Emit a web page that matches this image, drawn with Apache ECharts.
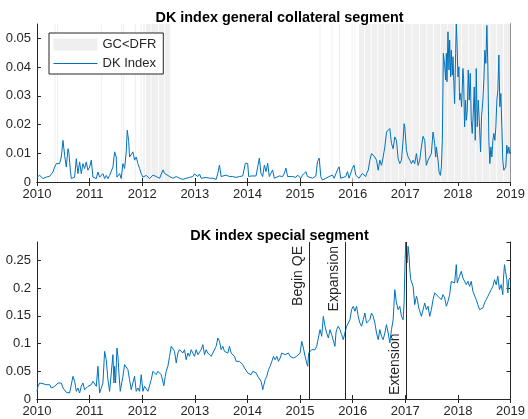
<!DOCTYPE html>
<html>
<head>
<meta charset="utf-8">
<script src="https://cdn.jsdelivr.net/npm/echarts@6/dist/echarts.min.js"></script>
<style>
  html, body { margin: 0; padding: 0; background: #fff; }
  #chart { width: 528px; height: 419px; }
</style>
</head>
<body>
<div id="chart"></div>
<script>
// Axis ticks (years) shared by both panels
const yearTicks = [2010, 2011, 2012, 2013, 2014, 2015, 2016, 2017, 2018, 2019];

// Periods (decimal years) when the GC rate was below the deposit facility rate
const gcBelowDfr = [
  [2010.335, 2010.345], [2010.38, 2010.39], [2011.22, 2011.228], [2011.60, 2011.612],
  [2011.64, 2011.648], [2011.86, 2011.87], [2011.97, 2011.99], [2012.02, 2012.05],
  [2012.07, 2012.16], [2012.175, 2012.30], [2012.315, 2012.42], [2012.435, 2012.53],
  [2015.37, 2015.378], [2015.60, 2015.608], [2015.74, 2015.748], [2015.98, 2015.995],
  [2016.03, 2016.04], [2016.12, 2016.22], [2016.235, 2016.34], [2016.36, 2016.47],
  [2016.485, 2016.60], [2016.615, 2016.72], [2016.735, 2016.86], [2016.875, 2016.98],
  [2016.995, 2017.12], [2017.135, 2017.26], [2017.275, 2017.40], [2017.415, 2017.53],
  [2017.545, 2017.66], [2017.675, 2017.80], [2017.815, 2017.93], [2017.945, 2018.06],
  [2018.075, 2018.20], [2018.215, 2018.33], [2018.345, 2018.46], [2018.475, 2018.60],
  [2018.615, 2018.73], [2018.745, 2018.86], [2018.875, 2019.0]
];

// DK index, general collateral segment: [decimal year, value]
const gcIndex = [
  [2010.000,0.0017],[2010.051,0.0023],[2010.114,0.0012],[2010.177,0.0017],[2010.241,0.0020],
  [2010.304,0.0035],[2010.335,0.0052],[2010.367,0.0064],[2010.399,0.0070],[2010.430,0.0064],
  [2010.462,0.0087],[2010.494,0.0145],[2010.525,0.0093],[2010.557,0.0052],[2010.589,0.0116],
  [2010.608,0.0099],[2010.633,0.0041],[2010.652,0.0012],[2010.684,0.0012],[2010.715,0.0017],
  [2010.747,0.0081],[2010.778,0.0029],[2010.810,0.0070],[2010.842,0.0029],[2010.873,0.0064],
  [2010.905,0.0047],[2010.937,0.0070],[2010.968,0.0041],[2011.000,0.0052],[2011.032,0.0076],
  [2011.063,0.0017],[2011.095,0.0017],[2011.127,0.0012],[2011.158,0.0035],[2011.190,0.0017],
  [2011.222,0.0017],[2011.253,0.0029],[2011.285,0.0012],[2011.316,0.0023],[2011.348,0.0012],
  [2011.380,0.0023],[2011.443,0.0052],[2011.475,0.0105],[2011.506,0.0087],[2011.519,0.0017],
  [2011.538,0.0017],[2011.570,0.0029],[2011.601,0.0012],[2011.633,0.0064],[2011.665,0.0047],
  [2011.696,0.0105],[2011.715,0.0180],[2011.741,0.0145],[2011.759,0.0087],[2011.791,0.0087],
  [2011.823,0.0105],[2011.854,0.0076],[2011.886,0.0087],[2011.918,0.0064],[2011.949,0.0047],
  [2011.981,0.0029],[2012.013,0.0017],[2012.044,0.0017],[2012.076,0.0023],[2012.139,0.0012],
  [2012.204,0.0024],[2012.267,0.0019],[2012.331,0.0013],[2012.394,0.0042],[2012.425,0.0030],
  [2012.457,0.0024],[2012.520,0.0019],[2012.583,0.0013],[2012.646,0.0019],[2012.710,0.0013],
  [2012.773,0.0009],[2012.836,0.0013],[2012.899,0.0016],[2012.962,0.0019],[2012.994,0.0028],
  [2013.025,0.0024],[2013.057,0.0019],[2013.089,0.0028],[2013.120,0.0013],[2013.152,0.0013],
  [2013.215,0.0016],[2013.278,0.0013],[2013.341,0.0013],[2013.405,0.0009],[2013.436,0.0030],
  [2013.468,0.0059],[2013.499,0.0019],[2013.531,0.0019],[2013.594,0.0024],[2013.657,0.0019],
  [2013.720,0.0019],[2013.783,0.0016],[2013.847,0.0019],[2013.910,0.0021],[2013.960,0.0065],
  [2014.004,0.0065],[2014.023,0.0019],[2014.068,0.0021],[2014.099,0.0024],[2014.163,0.0021],
  [2014.194,0.0024],[2014.226,0.0083],[2014.257,0.0030],[2014.289,0.0019],[2014.321,0.0059],
  [2014.352,0.0036],[2014.384,0.0065],[2014.415,0.0019],[2014.478,0.0042],[2014.510,0.0013],
  [2014.542,0.0013],[2014.605,0.0021],[2014.668,0.0019],[2014.700,0.0030],[2014.731,0.0048],
  [2014.763,0.0019],[2014.794,0.0013],[2014.858,0.0019],[2014.921,0.0016],[2014.952,0.0024],
  [2014.984,0.0030],[2015.015,0.0013],[2015.047,0.0024],[2015.110,0.0036],[2015.142,0.0019],
  [2015.173,0.0013],[2015.237,0.0013],[2015.300,0.0021],[2015.331,0.0071],[2015.363,0.0083],
  [2015.394,0.0019],[2015.426,0.0007],[2015.489,0.0013],[2015.552,0.0019],[2015.584,0.0021],
  [2015.615,0.0024],[2015.647,0.0013],[2015.679,0.0019],[2015.710,0.0042],[2015.742,0.0053],
  [2015.773,0.0013],[2015.805,0.0013],[2015.868,0.0019],[2015.900,0.0036],[2015.931,0.0013],
  [2015.963,0.0013],[2015.994,0.0048],[2016.026,0.0059],[2016.058,0.0024],[2016.089,0.0019],
  [2016.121,0.0013],[2016.184,0.0030],[2016.247,0.0019],[2016.263,0.0029],[2016.295,0.0041],
  [2016.327,0.0076],[2016.358,0.0099],[2016.390,0.0105],[2016.421,0.0087],[2016.453,0.0076],
  [2016.485,0.0041],[2016.516,0.0076],[2016.548,0.0058],[2016.579,0.0087],[2016.611,0.0122],
  [2016.642,0.0174],[2016.674,0.0169],[2016.706,0.0186],[2016.737,0.0134],[2016.769,0.0116],
  [2016.800,0.0157],[2016.832,0.0145],[2016.864,0.0081],[2016.895,0.0064],[2016.927,0.0076],
  [2016.958,0.0145],[2016.977,0.0203],[2016.990,0.0192],[2017.021,0.0110],[2017.053,0.0087],
  [2017.085,0.0076],[2017.116,0.0064],[2017.148,0.0076],[2017.179,0.0064],[2017.211,0.0099],
  [2017.243,0.0058],[2017.274,0.0076],[2017.306,0.0122],[2017.337,0.0159],[2017.369,0.0145],
  [2017.388,0.0087],[2017.400,0.0058],[2017.432,0.0076],[2017.464,0.0081],[2017.495,0.0099],
  [2017.527,0.0174],[2017.558,0.0134],[2017.577,0.0087],[2017.590,0.0122],[2017.622,0.0076],
  [2017.641,0.0035],[2017.666,0.0023],[2017.685,0.0052],[2017.704,0.0145],[2017.723,0.0448],
  [2017.748,0.0407],[2017.767,0.0355],[2017.780,0.0448],[2017.792,0.0349],[2017.811,0.0523],
  [2017.830,0.0390],[2017.843,0.0494],[2017.862,0.0366],[2017.874,0.0459],[2017.893,0.0372],
  [2017.906,0.0436],[2017.925,0.0331],[2017.937,0.0273],[2017.956,0.0448],[2017.969,0.0550],
  [2017.981,0.0494],[2018.000,0.0366],[2018.019,0.0401],[2018.032,0.0285],[2018.051,0.0308],
  [2018.070,0.0262],[2018.095,0.0395],[2018.108,0.0360],[2018.127,0.0192],[2018.146,0.0285],
  [2018.159,0.0215],[2018.178,0.0250],[2018.196,0.0390],[2018.215,0.0285],[2018.234,0.0378],
  [2018.253,0.0215],[2018.272,0.0169],[2018.291,0.0238],[2018.310,0.0331],[2018.329,0.0145],
  [2018.348,0.0395],[2018.367,0.0192],[2018.386,0.0285],[2018.411,0.0192],[2018.430,0.0105],
  [2018.449,0.0227],[2018.474,0.0285],[2018.493,0.0355],[2018.512,0.0459],[2018.531,0.0413],
  [2018.550,0.0545],[2018.569,0.0401],[2018.588,0.0145],[2018.607,0.0064],[2018.626,0.0122],
  [2018.645,0.0087],[2018.664,0.0145],[2018.683,0.0169],[2018.702,0.0145],[2018.721,0.0192],
  [2018.740,0.0285],[2018.759,0.0320],[2018.778,0.0442],[2018.797,0.0262],[2018.816,0.0308],
  [2018.835,0.0192],[2018.853,0.0076],[2018.872,0.0041],[2018.891,0.0035],[2018.910,0.0052],
  [2018.929,0.0128],[2018.948,0.0099],[2018.967,0.0122],[2018.986,0.0099],[2019.000,0.0105]
];

// DK index, special segment: [decimal year, value]
const specialIndex = [
  [2010.000,0.0138],[2010.019,0.0228],[2010.051,0.0288],[2010.082,0.0258],[2010.114,0.0276],
  [2010.146,0.0240],[2010.177,0.0258],[2010.209,0.0228],[2010.241,0.0258],[2010.272,0.0198],
  [2010.304,0.0168],[2010.335,0.0228],[2010.367,0.0258],[2010.399,0.0288],[2010.430,0.0258],
  [2010.462,0.0288],[2010.494,0.0198],[2010.525,0.0168],[2010.557,0.0120],[2010.589,0.0138],
  [2010.620,0.0108],[2010.652,0.0138],[2010.684,0.0409],[2010.715,0.0319],[2010.747,0.0138],
  [2010.778,0.0198],[2010.810,0.0108],[2010.842,0.0228],[2010.873,0.0288],[2010.905,0.0168],
  [2010.937,0.0138],[2010.968,0.0228],[2011.000,0.0198],[2011.032,0.0258],[2011.063,0.0319],
  [2011.095,0.0288],[2011.127,0.0228],[2011.158,0.0589],[2011.190,0.0108],[2011.222,0.0078],
  [2011.253,0.0288],[2011.285,0.0859],[2011.316,0.0709],[2011.348,0.0349],[2011.380,0.0138],
  [2011.411,0.0168],[2011.443,0.0799],[2011.462,0.0288],[2011.475,0.0589],[2011.494,0.0288],
  [2011.519,0.0919],[2011.538,0.0769],[2011.557,0.0469],[2011.582,0.0138],[2011.601,0.0138],
  [2011.633,0.0409],[2011.665,0.0619],[2011.696,0.0589],[2011.728,0.0529],[2011.759,0.0349],
  [2011.791,0.0168],[2011.823,0.0198],[2011.854,0.0409],[2011.886,0.0138],[2011.918,0.0198],
  [2011.949,0.0138],[2011.981,0.0439],[2012.013,0.0138],[2012.044,0.0228],[2012.076,0.0258],
  [2012.108,0.0138],[2012.139,0.0168],[2012.171,0.0349],[2012.203,0.0499],[2012.234,0.0469],
  [2012.266,0.0439],[2012.297,0.0499],[2012.329,0.0469],[2012.361,0.0439],[2012.392,0.0409],
  [2012.411,0.0240],[2012.437,0.0409],[2012.456,0.0499],[2012.487,0.0589],[2012.519,0.0769],
  [2012.551,0.0950],[2012.582,0.0950],[2012.614,0.0859],[2012.646,0.0649],[2012.677,0.0829],
  [2012.709,0.0889],[2012.741,0.0859],[2012.772,0.0829],[2012.804,0.0889],[2012.835,0.0709],
  [2012.867,0.0829],[2012.899,0.0769],[2012.930,0.0889],[2012.962,0.0829],[2012.994,0.0769],
  [2013.025,0.0889],[2013.057,0.0799],[2013.089,0.0769],[2013.120,0.0889],[2013.152,0.0980],
  [2013.184,0.0799],[2013.215,0.0889],[2013.247,0.0829],[2013.278,0.0859],[2013.310,0.0769],
  [2013.342,0.0829],[2013.373,0.0799],[2013.405,0.0950],[2013.437,0.1100],[2013.468,0.1040],
  [2013.500,0.0889],[2013.532,0.0950],[2013.563,0.0859],[2013.595,0.0889],[2013.627,0.0829],
  [2013.658,0.0950],[2013.690,0.0829],[2013.722,0.0829],[2013.753,0.0769],[2013.785,0.0679],
  [2013.816,0.0709],[2013.848,0.0679],[2013.880,0.0709],[2013.911,0.0619],[2013.943,0.0559],
  [2013.975,0.0529],[2014.006,0.0469],[2014.038,0.0499],[2014.070,0.0439],[2014.101,0.0499],
  [2014.133,0.0529],[2014.165,0.0469],[2014.196,0.0409],[2014.228,0.0379],[2014.259,0.0319],
  [2014.291,0.0168],[2014.305,0.0228],[2014.337,0.0349],[2014.368,0.0409],[2014.400,0.0529],
  [2014.431,0.0589],[2014.463,0.0679],[2014.495,0.0769],[2014.526,0.0709],[2014.558,0.0769],
  [2014.589,0.0679],[2014.621,0.0739],[2014.653,0.0829],[2014.684,0.0859],[2014.716,0.0799],
  [2014.747,0.0769],[2014.779,0.0829],[2014.810,0.0769],[2014.842,0.0799],[2014.874,0.0739],
  [2014.905,0.0739],[2014.937,0.0769],[2014.968,0.0739],[2015.000,0.0829],[2015.032,0.1040],
  [2015.063,0.0919],[2015.095,0.0769],[2015.126,0.0649],[2015.145,0.0589],[2015.164,0.0829],
  [2015.190,0.0859],[2015.221,0.0889],[2015.253,0.0859],[2015.284,0.0889],[2015.316,0.0950],
  [2015.347,0.1100],[2015.379,0.1250],[2015.411,0.1130],[2015.442,0.1490],[2015.474,0.1310],
  [2015.505,0.1190],[2015.537,0.1100],[2015.569,0.1250],[2015.600,0.1160],[2015.632,0.1190],
  [2015.663,0.0950],[2015.682,0.1190],[2015.695,0.1250],[2015.726,0.1310],[2015.758,0.1250],
  [2015.790,0.1160],[2015.821,0.1070],[2015.853,0.1070],[2015.884,0.1310],[2015.916,0.1280],
  [2015.948,0.1430],[2015.979,0.1611],[2016.011,0.1671],[2016.042,0.1581],[2016.074,0.1671],
  [2016.105,0.1490],[2016.137,0.1370],[2016.169,0.1310],[2016.200,0.1430],[2016.232,0.1550],
  [2016.263,0.1370],[2016.295,0.1340],[2016.327,0.1430],[2016.358,0.1550],[2016.390,0.1490],
  [2016.421,0.1370],[2016.453,0.1190],[2016.485,0.1070],[2016.516,0.1250],[2016.548,0.1130],
  [2016.579,0.1070],[2016.611,0.1190],[2016.642,0.1340],[2016.674,0.1190],[2016.706,0.1010],
  [2016.737,0.1250],[2016.769,0.1430],[2016.800,0.1971],[2016.832,0.1731],[2016.864,0.1611],
  [2016.895,0.1671],[2016.927,0.1490],[2016.958,0.1430],[2016.977,0.1731],[2016.996,0.2512],
  [2017.009,0.2830],[2017.021,0.2512],[2017.034,0.2452],[2017.053,0.2752],[2017.072,0.2572],
  [2017.085,0.2332],[2017.104,0.2151],[2017.123,0.2151],[2017.148,0.2031],[2017.179,0.1701],
  [2017.211,0.1851],[2017.230,0.1791],[2017.255,0.1641],[2017.274,0.1671],[2017.306,0.1490],
  [2017.337,0.1520],[2017.369,0.1731],[2017.400,0.1611],[2017.432,0.1671],[2017.464,0.1490],
  [2017.495,0.1611],[2017.527,0.1791],[2017.558,0.1911],[2017.590,0.1941],[2017.622,0.1851],
  [2017.653,0.1881],[2017.685,0.1791],[2017.716,0.1881],[2017.748,0.1821],[2017.780,0.1671],
  [2017.811,0.1761],[2017.843,0.1881],[2017.874,0.2121],[2017.906,0.2121],[2017.937,0.2091],
  [2017.969,0.2422],[2017.988,0.2091],[2018.007,0.2151],[2018.032,0.2212],[2018.063,0.2302],
  [2018.095,0.2181],[2018.127,0.2181],[2018.159,0.2061],[2018.190,0.2121],[2018.222,0.2031],
  [2018.253,0.2121],[2018.285,0.1941],[2018.316,0.1941],[2018.348,0.1791],[2018.379,0.1701],
  [2018.411,0.1611],[2018.443,0.1581],[2018.474,0.1641],[2018.505,0.1731],[2018.537,0.1791],
  [2018.569,0.1851],[2018.600,0.1821],[2018.632,0.1971],[2018.664,0.2031],[2018.695,0.2151],
  [2018.727,0.2061],[2018.758,0.2212],[2018.790,0.1971],[2018.822,0.2061],[2018.853,0.1881],
  [2018.866,0.2181],[2018.885,0.2422],[2018.904,0.2302],[2018.929,0.2151],[2018.948,0.1911],
  [2018.967,0.2151],[2018.986,0.2181],[2019.000,0.2151]
];

// Policy events marked on the special segment panel
const policyEvents = [
  { name: 'Begin QE', year: 2015.18, side: 'insideEndTop' },
  { name: 'Expansion', year: 2015.86, side: 'insideEndTop' },
  { name: 'Extension', year: 2017.02, side: 'insideStartTop' }
];

const panelTitles = ['DK index general collateral segment', 'DK index special segment'];

const FONT = '"Liberation Sans", Arial, Helvetica, sans-serif';
const AX = '#262626';
const BLUE = '#0072BD';
const SHADE = '#efefef';

function xAxes(gridIndex) {
  const common = {
    type: 'value', gridIndex, min: yearTicks[0], max: yearTicks[yearTicks.length - 1], interval: 1,
    axisLine: { show: true, lineStyle: { color: AX, width: 1 } },
    axisTick: { show: true, inside: true, length: 4, lineStyle: { color: AX } },
    splitLine: { show: false }
  };
  return [
    Object.assign({}, common, {
      position: 'bottom',
      axisLabel: { show: true, color: AX, fontSize: 13, fontFamily: FONT, margin: 6,
        formatter: v => String(v) }
    }),
    Object.assign({}, common, { position: 'top', axisLabel: { show: false } })
  ];
}

function yAxes(gridIndex, max, interval) {
  const common = {
    type: 'value', gridIndex, min: 0, max, interval,
    axisLine: { show: true, lineStyle: { color: AX, width: 1 } },
    axisTick: { show: true, inside: true, length: 4, lineStyle: { color: AX } },
    splitLine: { show: false }
  };
  return [
    Object.assign({}, common, {
      position: 'left',
      axisLabel: { show: true, color: AX, fontSize: 13, fontFamily: FONT, margin: 6,
        showMaxLabel: false, formatter: v => String(+v.toFixed(4)) }
    }),
    Object.assign({}, common, { position: 'right', axisLabel: { show: false } })
  ];
}

const chart = echarts.init(document.getElementById('chart'), null, { renderer: 'canvas' });

chart.setOption({
  animation: false,
  backgroundColor: '#fff',
  textStyle: { fontFamily: FONT },
  title: [
    { text: panelTitles[0], left: 274.5, top: 6, textAlign: 'center',
      textStyle: { fontSize: 14.4, fontWeight: 'bold', color: '#000', fontFamily: FONT } },
    { text: panelTitles[1], left: 274.5, top: 224, textAlign: 'center',
      textStyle: { fontSize: 14.4, fontWeight: 'bold', color: '#000', fontFamily: FONT } }
  ],
  grid: [
    { left: 37, right: 16, top: 24, height: 158 },
    { left: 37, right: 16, top: 242, height: 157 }
  ],
  xAxis: [...xAxes(0), ...xAxes(1)],
  yAxis: [...yAxes(0, 0.055, 0.01), ...yAxes(1, 0.283, 0.05)],
  legend: {
    left: 49, top: 33, orient: 'vertical',
    itemWidth: 44, itemHeight: 12, itemGap: 6,
    padding: [5, 7, 4, 4],
    borderColor: AX, borderWidth: 1, backgroundColor: '#fff',
    textStyle: { fontSize: 13, color: AX, fontFamily: FONT },
    data: [
      { name: 'GC<DFR', icon: 'rect' },
      { name: 'DK Index', itemStyle: { opacity: 0 }, lineStyle: { width: 1, color: BLUE } }
    ]
  },
  series: [
    {
      name: 'GC<DFR', type: 'custom', xAxisIndex: 0, yAxisIndex: 0,
      itemStyle: { color: SHADE },
      encode: { x: [0, 1] },
      data: gcBelowDfr,
      silent: true, z: 1,
      renderItem: (params, api) => {
        const cs = params.coordSys;
        const x0 = api.coord([api.value(0), 0])[0];
        const x1 = api.coord([api.value(1), 0])[0];
        return {
          type: 'rect',
          shape: { x: x0, y: cs.y, width: Math.max(1, x1 - x0), height: cs.height },
          style: { fill: SHADE }
        };
      }
    },
    {
      name: 'DK Index', type: 'line', xAxisIndex: 0, yAxisIndex: 0,
      data: gcIndex, symbol: 'none', z: 3,
      itemStyle: { color: BLUE },
      lineStyle: { color: BLUE, width: 1 }
    },
    {
      name: 'DK Index special', type: 'line', xAxisIndex: 2, yAxisIndex: 2,
      data: specialIndex, symbol: 'none', z: 3,
      itemStyle: { color: BLUE },
      lineStyle: { color: BLUE, width: 1 },
      markLine: {
        silent: true, symbol: ['none', 'none'], animation: false,
        lineStyle: { color: AX, width: 1, type: 'solid' },
        label: { show: true, formatter: '{b}', fontSize: 14, color: AX, fontFamily: FONT, distance: 4 },
        data: policyEvents.map(e => ({ name: e.name, xAxis: e.year, label: { position: e.side } }))
      }
    }
  ]
});
</script>
</body>
</html>
